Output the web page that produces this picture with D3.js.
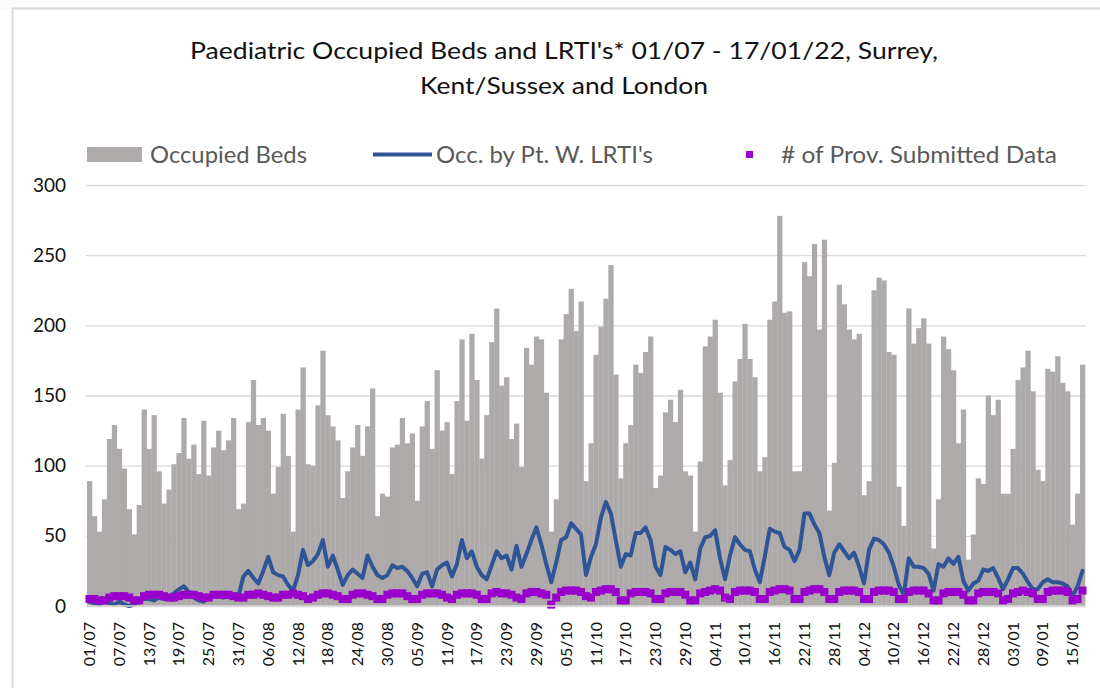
<!DOCTYPE html>
<html>
<head>
<meta charset="utf-8">
<script src="https://cdn.jsdelivr.net/npm/d3@7"></script>
<style>
  body { margin: 0; background: #fafafa; }
  svg { display: block; }
  text { font-family: Lato, "Open Sans", sans-serif; }
</style>
</head>
<body>
<script>
const w = 1100
const h = 688

const titleLines = ["Paediatric Occupied Beds and LRTI's* 01/07 - 17/01/22, Surrey,", "Kent/Sussex and London"]
const seriesNames = ["Occupied Beds", "Occ. by Pt. W. LRTI's", "# of Prov. Submitted Data"]

// one value per day, 01/07/21 .. 17/01/22
const occupiedBeds = [
  89, 64, 53, 76, 119, 129, 112, 98, 69, 51,
  72, 140, 112, 136, 96, 73, 83, 101, 109, 134,
  105, 115, 94, 132, 93, 113, 125, 111, 118, 134,
  69, 73, 131, 161, 129, 134, 125, 80, 99, 137,
  107, 53, 140, 170, 101, 100, 143, 182, 136, 128,
  118, 77, 96, 113, 129, 107, 128, 155, 64, 80,
  78, 113, 115, 134, 116, 123, 75, 128, 146, 112,
  168, 125, 131, 94, 146, 190, 132, 194, 161, 105,
  136, 188, 212, 157, 163, 119, 130, 99, 184, 172,
  192, 190, 152, 53, 76, 190, 208, 226, 196, 217,
  89, 116, 179, 199, 219, 243, 165, 91, 116, 129,
  172, 166, 181, 192, 84, 93, 138, 147, 131, 154,
  96, 93, 53, 103, 185, 192, 204, 152, 86, 104,
  160, 176, 201, 176, 163, 96, 106, 204, 217, 278,
  209, 210, 96, 96, 245, 235, 258, 197, 261, 68,
  102, 229, 215, 197, 190, 194, 79, 89, 225, 234,
  232, 181, 179, 85, 57, 212, 187, 198, 205, 187,
  41, 76, 192, 183, 168, 116, 140, 33, 51, 91,
  87, 150, 136, 147, 80, 80, 112, 161, 170, 182,
  153, 97, 89, 169, 167, 178, 159, 153, 58, 80,
  172
]
const lrtiBeds = [
  3, 2, 1, 3, 2, 1, 3, 1, 0, 1,
  4, 5, 5, 4, 6, 5, 7, 9, 12, 14,
  10, 6, 4, 3, 6, 7, 7, 6, 7, 6,
  7, 21, 25, 20, 16, 25, 35, 24, 22, 21,
  15, 11, 22, 40, 29, 32, 37, 47, 28, 36,
  26, 15, 22, 26, 23, 20, 36, 28, 22, 20,
  22, 29, 27, 28, 25, 20, 14, 23, 24, 14,
  26, 29, 31, 21, 30, 47, 34, 39, 28, 22,
  19, 29, 39, 34, 36, 26, 43, 28, 37, 47,
  56, 44, 30, 17, 31, 47, 49, 59, 55, 51,
  22, 35, 44, 63, 74, 66, 47, 28, 37, 36,
  52, 52, 56, 47, 28, 22, 42, 40, 37, 39,
  24, 31, 19, 41, 49, 50, 54, 34, 19, 36,
  49, 44, 40, 39, 26, 17, 35, 55, 53, 52,
  42, 40, 32, 40, 66, 66, 58, 52, 35, 22,
  38, 44, 39, 34, 38, 28, 16, 40, 48, 47,
  44, 38, 28, 15, 8, 34, 28, 28, 27, 23,
  11, 30, 28, 34, 30, 35, 18, 11, 16, 18,
  26, 25, 27, 20, 12, 19, 27, 27, 23, 17,
  12, 12, 17, 19, 17, 17, 16, 14, 7, 14,
  25
]
const providers = [
  5, 5, 4, 4, 6, 7, 7, 7, 6, 4,
  4, 7, 8, 8, 8, 7, 6, 6, 7, 8,
  8, 8, 7, 6, 6, 8, 8, 8, 8, 7,
  6, 6, 8, 8, 9, 8, 7, 6, 6, 8,
  8, 9, 8, 7, 5, 6, 8, 9, 9, 8,
  7, 5, 5, 8, 9, 9, 8, 7, 5, 5,
  8, 9, 9, 9, 7, 5, 5, 8, 9, 9,
  9, 8, 6, 5, 8, 9, 9, 9, 8, 5,
  5, 9, 10, 9, 9, 8, 6, 5, 9, 10,
  10, 9, 8, 1, 6, 10, 11, 11, 11, 10,
  7, 6, 10, 11, 12, 12, 10, 4, 4, 9,
  10, 10, 10, 9, 5, 5, 9, 10, 10, 10,
  8, 4, 4, 9, 10, 11, 12, 11, 6, 5,
  10, 11, 11, 11, 10, 5, 5, 10, 11, 12,
  12, 11, 5, 5, 10, 11, 12, 12, 10, 5,
  5, 10, 11, 11, 11, 10, 5, 5, 10, 11,
  11, 11, 10, 5, 5, 10, 11, 11, 11, 9,
  4, 4, 9, 10, 10, 10, 8, 4, 4, 9,
  10, 10, 10, 9, 4, 5, 9, 10, 11, 10,
  9, 5, 5, 10, 11, 11, 11, 10, 4, 5,
  11
]
const tickLabels = ["01/07", "07/07", "13/07", "19/07", "25/07", "31/07", "06/08", "12/08", "18/08", "24/08", "30/08",
  "05/09", "11/09", "17/09", "23/09", "29/09", "05/10", "11/10", "17/10", "23/10", "29/10", "04/11", "10/11",
  "16/11", "22/11", "28/11", "04/12", "10/12", "16/12", "22/12", "28/12", "03/01", "09/01", "15/01"]
const yTicks = [0, 50, 100, 150, 200, 250, 300]

const days = d3.timeDay.range(new Date(2021, 6, 1), new Date(2022, 0, 18))
const key = d3.timeFormat("%Y-%m-%d")
const dm = d3.timeFormat("%d/%m")
const data = days.map((d, i) => ({ k: key(d), label: dm(d), beds: occupiedBeds[i], lrti: lrtiBeds[i], prov: providers[i] }))

const x = d3.scaleBand().domain(data.map(d => d.k)).range([87, 1085]).padding(0)
const y = d3.scaleLinear().domain([0, 300]).range([606, 185])

const svg = d3.select("body").append("svg").attr("width", w).attr("height", h)

svg.append("rect").attr("x", 0).attr("y", 9).attr("width", w).attr("height", h).attr("fill", "#fff")
svg.append("rect").attr("x", 12.5).attr("y", 8.5).attr("width", w).attr("height", h)
  .attr("fill", "#fff").attr("stroke", "#d9d9d9").attr("stroke-width", 2)

const title = svg.append("text").attr("text-anchor", "middle").attr("fill", "#111").style("font-size", "23px")
title.selectAll("tspan").data(titleLines).enter().append("tspan")
  .attr("x", 564).attr("y", (d, i) => 59 + i * 35)
  .attr("textLength", (d, i) => [748, 288][i]).attr("lengthAdjust", "spacingAndGlyphs")
  .text(d => d)

// gridlines + y labels
svg.append("g").attr("transform", "translate(86,0)")
  .call(d3.axisLeft(y).tickValues(yTicks).tickSize(-1000).tickPadding(20))
  .call(g => g.select(".domain").remove())
  .call(g => g.selectAll("line").attr("stroke", "#d9d9d9").attr("stroke-width", 1.3))
  .call(g => g.selectAll("text").attr("fill", "#111").style("font-size", "19px").style("font-family", "Lato, sans-serif"))

svg.append("g").selectAll("rect").data(data).enter().append("rect")
  .attr("x", d => x(d.k)).attr("y", d => y(d.beds))
  .attr("width", x.bandwidth() + 0.3).attr("height", d => y(0) - y(d.beds))
  .attr("fill", "#aeaaaa")

svg.append("path").datum(data)
  .attr("d", d3.line().x(d => x(d.k) + x.bandwidth() / 2).y(d => y(d.lrti)))
  .attr("fill", "none").attr("stroke", "#2f5597").attr("stroke-width", 4)
  .attr("stroke-linejoin", "round").attr("stroke-linecap", "round")

svg.append("g").selectAll("rect").data(data).enter().append("rect")
  .attr("x", d => x(d.k) + x.bandwidth() / 2 - 4).attr("y", d => y(d.prov) - 4)
  .attr("width", 8).attr("height", 8).attr("fill", "#9900cc")

const tickKeys = tickLabels.map(t => data.find(d => d.label === t).k)
svg.append("g").attr("transform", "translate(0,606)")
  .call(d3.axisBottom(x).tickValues(tickKeys).tickSize(0).tickFormat(k => data.find(d => d.k === k).label))
  .call(g => g.select(".domain").attr("stroke", "#d9d9d9").attr("stroke-width", 1.3).attr("d", "M86,0H1086"))
  .call(g => g.selectAll("text")
    .attr("transform", "rotate(-90)").attr("x", -16).attr("y", 0).attr("dy", "0.35em")
    .attr("text-anchor", "end").attr("fill", "#111")
    .style("font-size", "16px").style("font-family", "Lato, sans-serif"))

// legend
const legend = svg.append("g").style("font-size", "23px").attr("fill", "#595959")
legend.append("rect").attr("x", 87).attr("y", 147).attr("width", 55).attr("height", 15).attr("fill", "#aeaaaa")
legend.append("line").attr("x1", 373).attr("x2", 432).attr("y1", 154.5).attr("y2", 154.5)
  .attr("stroke", "#2f5597").attr("stroke-width", 4)
legend.append("rect").attr("x", 746).attr("y", 151).attr("width", 7).attr("height", 7).attr("fill", "#9900cc")
legend.selectAll("text").data(seriesNames).enter().append("text")
  .attr("x", (d, i) => [150, 436, 781][i]).attr("y", 163)
  .attr("textLength", (d, i) => [157, 217, 276][i]).attr("lengthAdjust", "spacingAndGlyphs")
  .text(d => d)
</script>
</body>
</html>
